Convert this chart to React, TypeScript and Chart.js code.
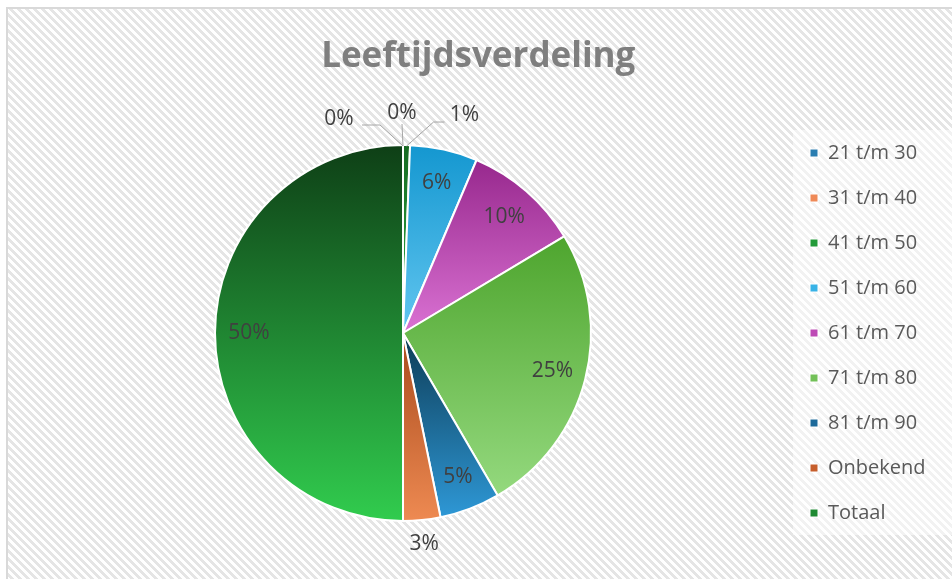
import React, { useEffect, useRef } from 'react';
import { Chart, registerables } from 'chart.js';

Chart.register(...registerables);

const TITLE = 'Leeftijdsverdeling';
const categories = ['21 t/m 30', '31 t/m 40', '41 t/m 50', '51 t/m 60', '61 t/m 70', '71 t/m 80', '81 t/m 90', 'Onbekend', 'Totaal'];
const counts = [0, 0, 3, 29, 50, 126, 26, 16, 250];

const topColors = ['#145a80', '#d9652a', '#176a22', '#1497d0', '#97288d', '#4ea52e', '#0d3b55', '#a84a1c', '#0e3f16'];
const bottomColors = ['#3d9ccc', '#f5a06e', '#2fb447', '#62c6f0', '#da72d3', '#94d97e', '#2e98d6', '#ee8a52', '#31cc4e'];
const legendColors = ['#2a7db0', '#ef8a58', '#229a38', '#38b2e6', '#bd4ab5', '#72c058', '#1d6a9a', '#c65e2c', '#1f8a33'];

// leader-line layouts for very small slices (relative to the arc edge anchor)
const LEADERS = [
  { tx: -64, ty: -27, ex: -23, ey: -21, hx: -41 },
  { tx: -1, ty: -33, ex: -1, ey: -22, hx: -1 },
  { tx: 58, ty: -31, ex: 27, ey: -24, hx: 38 },
];

const FONT = 'Open Sans';
const W = 952;
const H = 579;

function makePattern(ctx: CanvasRenderingContext2D) {
  const c = document.createElement('canvas');
  c.width = 8;
  c.height = 8;
  const p = c.getContext('2d')!;
  p.fillStyle = '#ffffff';
  p.fillRect(0, 0, 8, 8);
  p.fillStyle = '#e5e5e5';
  for (let y = 0; y < 8; y++) {
    for (let x = 0; x < 8; x++) {
      if ((((x - y) % 8) + 8) % 8 < 4) p.fillRect(x, y, 1, 1);
    }
  }
  return ctx.createPattern(c, 'repeat')!;
}

const backgroundPlugin = {
  id: 'bgPlugin',
  beforeDraw(chart: any) {
    const { ctx, width, height } = chart;
    ctx.save();
    ctx.fillStyle = '#ffffff';
    ctx.fillRect(0, 0, width, height);
    ctx.fillStyle = makePattern(ctx);
    ctx.fillRect(8, 9, width - 8, height - 9);
    ctx.fillStyle = '#d9d9d9';
    ctx.fillRect(6, 7, width - 6, 2);
    ctx.fillRect(6, 7, 2, height - 7);
    const lg = chart.legend;
    const hb = lg && lg.legendHitBoxes;
    if (hb && hb.length) {
      const top = hb[0].top - 13;
      const last = hb[hb.length - 1];
      const bottom = last.top + last.height + 12;
      ctx.fillStyle = 'rgba(255,255,255,0.5)';
      ctx.fillRect(lg.left + 8, top, width - lg.left - 8, bottom - top);
    }
    ctx.restore();
  },
};

const gradientPlugin = {
  id: 'sliceGradient',
  beforeDatasetsDraw(chart: any) {
    const meta = chart.getDatasetMeta(0);
    meta.data.forEach((arc: any, i: number) => {
      const { x, y, startAngle, endAngle, outerRadius } = arc.getProps(['x', 'y', 'startAngle', 'endAngle', 'outerRadius'], true);
      let ymin = y;
      let ymax = y;
      const angles = [startAngle, endAngle];
      for (const a of [-Math.PI / 2, Math.PI / 2, (3 * Math.PI) / 2]) {
        if (a >= startAngle && a <= endAngle) angles.push(a);
      }
      angles.forEach((a) => {
        const yy = y + Math.sin(a) * outerRadius;
        ymin = Math.min(ymin, yy);
        ymax = Math.max(ymax, yy);
      });
      if (ymax - ymin < 1) ymax = ymin + 1;
      const g = chart.ctx.createLinearGradient(0, ymin, 0, ymax);
      g.addColorStop(0, topColors[i]);
      g.addColorStop(1, bottomColors[i]);
      arc.options.backgroundColor = g;
    });
  },
};

const labelPlugin = {
  id: 'pieLabels',
  afterDatasetsDraw(chart: any) {
    const ctx = chart.ctx;
    const meta = chart.getDatasetMeta(0);
    const total = counts.reduce((a, b) => a + b, 0);
    ctx.save();
    ctx.font = `21px "${FONT}"`;
    ctx.fillStyle = '#404040';
    ctx.textAlign = 'center';
    ctx.textBaseline = 'middle';
    ctx.strokeStyle = '#a6a6a6';
    ctx.lineWidth = 1;
    let small = 0;
    meta.data.forEach((arc: any, i: number) => {
      const { x, y, startAngle, endAngle, outerRadius } = arc.getProps(['x', 'y', 'startAngle', 'endAngle', 'outerRadius'], true);
      const mid = (startAngle + endAngle) / 2;
      const pct = total ? (counts[i] / total) * 100 : 0;
      const text = Math.round(pct) + '%';
      const c = Math.cos(mid);
      const s = Math.sin(mid);
      if (pct >= 4) {
        const r = outerRadius * 0.82;
        ctx.fillText(text, x + c * r, y + s * r);
      } else if (pct >= 2) {
        const r = outerRadius + 24;
        ctx.fillText(text, x + c * r, y + s * r);
      } else {
        const L = LEADERS[small++] || LEADERS[LEADERS.length - 1];
        const ax = x + c * (outerRadius - 1);
        const ay = y + s * (outerRadius - 1);
        ctx.beginPath();
        ctx.moveTo(ax, ay);
        ctx.lineTo(ax + L.ex, ay + L.ey);
        ctx.lineTo(ax + L.hx, ay + L.ey);
        ctx.stroke();
        ctx.fillText(text, ax + L.tx, ay + L.ty);
      }
    });
    ctx.restore();
  },
};

export default function App() {
  const ref = useRef<HTMLCanvasElement>(null);

  useEffect(() => {
    const legendFontSize = 20;
    const legendPadding = 25;
    const boxW = 8;
    const m = document.createElement('canvas').getContext('2d')!;
    m.font = `${legendFontSize}px "${FONT}"`;
    const maxW = Math.max(...categories.map((c) => m.measureText(c).width));
    const legendWidth = legendPadding + boxW + legendFontSize / 2 + maxW + 10;
    const legendLeft = 785;
    const padR = Math.max(0, W - legendLeft - legendWidth);

    const chart = new Chart(ref.current!, {
      type: 'pie',
      data: {
        labels: categories,
        datasets: [
          {
            data: counts,
            backgroundColor: legendColors,
            borderColor: '#ffffff',
            borderWidth: 2,
            radius: 188,
          } as any,
        ],
      },
      options: {
        responsive: true,
        maintainAspectRatio: false,
        animation: false,
        layout: { padding: { left: 21, right: padR, top: 0, bottom: 3 } },
        plugins: {
          tooltip: { enabled: false },
          title: {
            display: true,
            text: TITLE,
            color: '#7f7f7f',
            font: { family: FONT, size: 35, weight: 'bold', lineHeight: 1.2 },
            padding: { top: 36, bottom: 12 },
          },
          legend: {
            position: 'right',
            fullSize: false,
            labels: {
              boxWidth: boxW,
              boxHeight: 8,
              padding: legendPadding,
              color: '#595959',
              font: { family: FONT, size: legendFontSize },
              generateLabels: () =>
                categories.map((c, i) => ({
                  text: c,
                  fillStyle: legendColors[i],
                  strokeStyle: '#ffffff',
                  lineWidth: 1,
                  hidden: false,
                  index: i,
                  fontColor: '#595959',
                })),
            },
          },
        },
      } as any,
      plugins: [backgroundPlugin, gradientPlugin, labelPlugin],
    });
    return () => chart.destroy();
  }, []);

  return (
    <div style={{ position: 'fixed', left: 0, top: 0, width: W, height: H }}>
      <canvas ref={ref} />
    </div>
  );
}
